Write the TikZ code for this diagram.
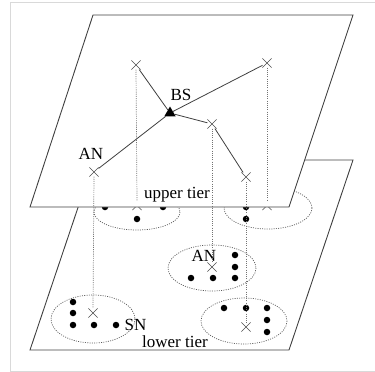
\documentclass[tikz,border=0pt]{standalone}
\usepackage{fontspec}
\setmainfont{Liberation Serif}
\usetikzlibrary{positioning,shapes.geometric,shapes.misc}
\tikzstyle{plane}=[draw=black!75, line width=0.9pt, line join=miter]
\tikzstyle{grp}=[draw=black!65, dash pattern=on 1pt off 1.3pt, line width=0.7pt]
\tikzstyle{sn}=[circle, fill=black, inner sep=0pt, minimum size=6.5pt]
\tikzstyle{an}=[cross out, draw=black!70, inner sep=0pt, minimum size=8.5pt, line width=0.6pt]
\tikzstyle{bs}=[regular polygon, regular polygon sides=3, fill=black, inner sep=0pt, minimum size=13pt]
\tikzstyle{link}=[draw=black!75, line width=0.8pt]
\tikzstyle{drop}=[draw=black!55, dash pattern=on 1pt off 1.2pt, line width=0.7pt]
\tikzstyle{lbl}=[inner sep=0pt, font=\fontsize{17}{19}\selectfont]

\begin{document}
\begin{tikzpicture}[x=1pt,y=-1pt]
  \useasboundingbox (0,0) rectangle (375,372);
  \draw[black!15] (375,2) -- (10,2) -- (10,371) -- (375,371);

  % lower tier
  \draw[plane] (94,160) -- (353,160) -- (289,350) -- (30,350) -- cycle;
  \draw[grp] (137,212) ellipse [x radius=43, y radius=18];
  \draw[grp] (268,208) ellipse [x radius=44, y radius=21];
  \draw[grp] (212,268) ellipse [x radius=44, y radius=23];
  \draw[grp] (93,319) ellipse [x radius=42, y radius=24];
  \draw[grp] (244,321) ellipse [x radius=43, y radius=23];

  \node[an] (la) at (137,205.5) {};
  \node[sn] (la1) at (105,207) {};
  \node[sn] (la2) at (163,207) {};
  \node[sn] (la3) at (137,219) {};

  \node[an] (lb) at (267,205.5) {};
  \node[sn] (lb1) at (246,207) {};
  \node[sn] (lb2) at (246,219) {};

  \node[an] (lc) at (212,267) {};
  \node[sn] (lc1) at (235,255) {};
  \node[sn] (lc2) at (235,267) {};
  \node[sn] (lc3) at (235,278) {};
  \node[sn] (lc4) at (213,278) {};
  \node[sn] (lc5) at (191,278) {};
  \node[lbl] (lcl) at (204,256) {AN};

  \node[an] (ld) at (93,313) {};
  \node[sn] (ld1) at (73,302) {};
  \node[sn] (ld2) at (73,313) {};
  \node[sn] (ld3) at (73,325) {};
  \node[sn] (ld4) at (94,325) {};
  \node[sn] (ld5) at (116,325) {};
  \node[lbl] (sn) [right=5pt of ld5] {SN};

  \node[an] (le) at (246,327) {};
  \node[sn] (le1) at (224,308) {};
  \node[sn] (le2) at (246,308) {};
  \node[sn] (le3) at (267,308) {};
  \node[sn] (le4) at (267,320) {};
  \node[sn] (le5) at (267,332) {};

  \node[lbl] (lower) at (175,342) {lower tier};

  % upper tier
  \filldraw[plane, fill=white] (93,15) -- (353,15) -- (289,207) -- (30,207) -- cycle;
  \node[lbl] (upper) at (177,195) {upper tier};

  \node[bs] (bs) at (170,113) {};
  \node[lbl] (bsl) at (181,95) {BS};
  \node[an] (ua) at (94,172) {};
  \node[lbl] (ual) at (91,154) {AN};
  \node[an] (ub) at (136,65) {};
  \node[an] (uc) at (267,63) {};
  \node[an] (ud) at (212,124) {};
  \node[an] (ue) at (246,177) {};

  \draw[link] (ua) -- (bs);
  \draw[link] (bs) -- (ub);
  \draw[link] (bs) -- (uc);
  \draw[link] (bs) -- (ud);
  \draw[link] (ud) -- (ue);

  % projections
  \draw[drop] (ua.south) -- (ld.north);
  \draw[drop] (ub.south) -- (la.north);
  \draw[drop] (uc.south) -- (lb.north);
  \draw[drop] (ud.south) -- (lc.north);
  \draw[drop] (ue.south) -- (le.north);
\end{tikzpicture}
\end{document}
